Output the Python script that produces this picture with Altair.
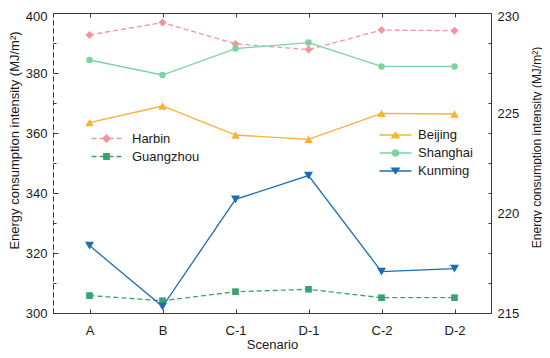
import altair as alt
import pandas as pd

FONT = "Liberation Sans"

scenarios = ["A", "B", "C-1", "D-1", "C-2", "D-2"]

# left axis (dashed series)
harbin = [392.7, 396.8, 389.7, 387.8, 394.3, 394.1]
guangzhou = [305.8, 304.1, 307.1, 307.9, 305.1, 305.1]
# right axis (solid series)
beijing = [224.52, 225.35, 223.90, 223.68, 224.98, 224.95]
shanghai = [227.65, 226.90, 228.22, 228.52, 227.33, 227.33]
kunming = [218.37, 215.32, 220.68, 221.87, 217.07, 217.22]

left_cities = ["Harbin", "Guangzhou"]
left_series = [harbin, guangzhou]
left_colors = ["#F5949F", "#3AA373"]
left_shapes = ["diamond", "square"]
left_sizes = [64, 45]

right_cities = ["Beijing", "Shanghai", "Kunming"]
right_series = [beijing, shanghai, kunming]
right_colors = ["#F9B233", "#7DD2A3", "#1C6DB6"]
right_shapes = ["triangle-up", "circle", "triangle-down"]
right_sizes = [72, 42, 81]

left_domain = [300, 400]
right_domain = [215, 230]
left_ticks = list(range(300, 401, 10))
right_ticks = [215, 216.5, 218, 219.5, 220, 221, 222.5, 224, 225, 225.5, 227, 228.5, 230]

# legend glyphs: line + marker, fill only
dash_line = ("M-3.75,-0.16H-2.5V0.16H-3.75Z M-1.75,-0.16H-0.5V0.16H-1.75Z "
             "M0.5,-0.16H1.75V0.16H0.5Z M2.5,-0.16H3.75V0.16H2.5Z ")
solid_line = "M-4,-0.16H4V0.16H-4Z "
left_paths = [
    dash_line + "M0,-1.15L1.15,0L0,1.15L-1.15,0Z",
    dash_line + "M-0.85,-0.85H0.85V0.85H-0.85Z",
]
right_paths = [
    solid_line + "M0,-0.95L1.25,0.85L-1.25,0.85Z",
    solid_line + "M0.95,0A0.95,0.95,0,1,1,-0.95,0A0.95,0.95,0,1,1,0.95,0Z",
    solid_line + "M-1.25,-0.85L1.25,-0.85L0,0.95Z",
]

AX = dict(domainColor="#3a3a3a", tickColor="#3a3a3a", labelColor="#1a1a1a",
          titleColor="#1a1a1a", labelFont=FONT, titleFont=FONT, labelFontSize=13,
          titleFontWeight="normal", grid=False, labelOverlap=False)

x_scale = alt.Scale(type="point", domain=scenarios, padding=0.5)
x_bottom = alt.X("scenario:N", sort=scenarios, scale=x_scale,
                 axis=alt.Axis(orient="bottom", title="Scenario", labelAngle=0,
                               tickSize={"expr": "-4"}, labelPadding=15, titleFontSize=13,
                               titleX=219, titleY=31, titleBaseline="middle", **AX))
x_top = alt.X("scenario:N", sort=scenarios, scale=x_scale,
              axis=alt.Axis(orient="top", title=None, labels=False,
                            tickSize={"expr": "-4"}, **AX))

TITLE = "Energy consumption intensity (MJ/m\u00b2)"
left_axis = alt.Axis(orient="left", values=left_ticks,
                     tickSize={"expr": "datum.value % 20 == 0 ? -5 : -3"},
                     labelExpr="datum.value % 20 == 0 ? datum.label : ''",
                     labelOffset={"expr": "datum.value == 400 ? 3 : 0"},
                     labelPadding=11, domainDash=[5, 3], title=TITLE, titleFontSize=13,
                     titleAngle=270, titleX=-38.5, titleY=127, titleBaseline="middle",
                     titleAlign="center", **AX)
right_axis = alt.Axis(orient="right", values=right_ticks,
                      tickSize={"expr": "-3"},
                      tickOpacity={"expr": "datum.value == 220 || datum.value == 225 ? 0 : 1"},
                      labelExpr="datum.value % 5 == 0 ? datum.label : ''",
                      labelOffset={"expr": "datum.value == 230 ? 3 : 0"},
                      labelPadding=9, title=TITLE, titleFontSize=12, titleAngle=270, titleX=45,
                      titleY=134, titleBaseline="middle", titleAlign="center", **AX)


def legend(x, y, off):
    return alt.Legend(title=None, orient="none", legendX=x, legendY=y,
                      direction="vertical", symbolSize=64, symbolStrokeWidth=0,
                      labelOffset=off, labelFontSize=13, labelFont=FONT,
                      labelColor="#1a1a1a", rowPadding=4, padding=0)


def group(cities, series, colors, shapes, sizes, domain, axis, xenc, dash, paths, leg):
    layers = []
    for city, vals, col, shp, sz in zip(cities, series, colors, shapes, sizes):
        df = pd.DataFrame({"scenario": scenarios, "value": vals, "city": city})
        base = alt.Chart(df).encode(
            x=xenc,
            y=alt.Y("value:Q", scale=alt.Scale(domain=domain, nice=False, zero=False), axis=axis),
        )
        line_kw = dict(color=col, strokeWidth=1.3)
        if dash:
            line_kw["strokeDash"] = dash
        layers.append(base.mark_line(**line_kw))
        layers.append(base.mark_point(shape=shp, filled=True, size=sz, color=col, opacity=1))
    ldf = pd.DataFrame({"city": cities})
    leg_layer = alt.Chart(ldf).mark_point(filled=True, opacity=1, clip=True).encode(
        x=alt.value(0), y=alt.value(-1000),
        color=alt.Color("city:N", sort=cities, scale=alt.Scale(domain=cities, range=colors), legend=leg),
        shape=alt.Shape("city:N", sort=cities, scale=alt.Scale(domain=cities, range=paths), legend=leg),
    )
    layers.append(leg_layer)
    return alt.layer(*layers)


left = group(left_cities, left_series, left_colors, left_shapes, left_sizes,
             left_domain, left_axis, x_bottom, [5, 3], left_paths, legend(47, 119, 19))
right = group(right_cities, right_series, right_colors, right_shapes, right_sizes,
              right_domain, right_axis, x_top, None, right_paths, legend(336, 115.5, 16))

chart = (
    alt.layer(left, right)
    .resolve_scale(y="independent", color="independent", shape="independent")
    .resolve_axis(x="independent")
    .properties(width=438, height=300, autosize="none",
                padding={"left": 45, "top": 5, "right": 51, "bottom": 37})
    .configure_view(stroke=None)
    .configure(font=FONT)
)

chart.save("out.html", embed_options={"renderer": "svg", "actions": False})
